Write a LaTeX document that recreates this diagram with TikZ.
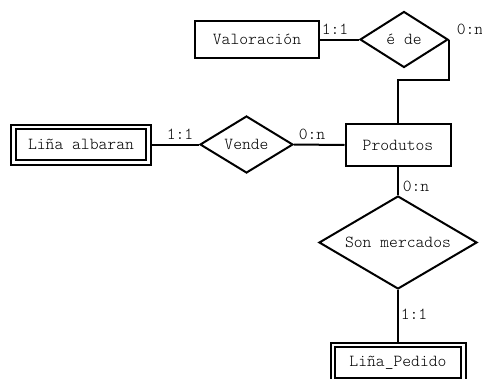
\documentclass[tikz,border=0pt]{standalone}
\usepackage{fontspec}
\setmonofont{Latin Modern Mono Light}
\usetikzlibrary{shapes.geometric}
\tikzset{
  txt/.style={font=\ttfamily\fontsize{16.8}{18}\selectfont},
  ent/.style={txt, draw, rectangle, line width=2pt, inner sep=0pt},
  weakent/.style={txt, draw, rectangle, line width=2pt, double, double distance=2.6pt, inner sep=0pt, outer sep=3.3pt},
  rel/.style={txt, draw, shape=diamond, line width=2pt, inner sep=0pt, aspect=1.6},
  lbl/.style={txt, inner sep=0pt},
  conn/.style={line width=2pt}
}
\begin{document}
\begin{tikzpicture}[x=1pt,y=-1pt]
\clip (0,0) rectangle (482,378);
\fill[white] (0,0) rectangle (482,378);
\node[ent, minimum width=124pt, minimum height=37pt] (val) at (257,39.5) {Valoración};
\node[rel, minimum width=88pt, minimum height=56pt] (ede) at (404,39.5) {é de};
\node[weakent, minimum width=135.4pt, minimum height=35.4pt] (alb) at (81,144.5) {Liña albaran};
\node[rel, minimum width=93pt, minimum height=57pt] (vende) at (246.5,144.5) {Vende};
\node[ent, minimum width=105pt, minimum height=42pt] (prod) at (398,145) {Produtos};
\node[rel, minimum width=158pt, minimum height=93pt] (son) at (398,242.5) {Son mercados};
\node[weakent, minimum width=130.4pt, minimum height=35.4pt] (ped) at (398,362.5) {Liña\_Pedido};
\coordinate (elbow) at (0,80);
\draw[conn] (val.east) -- (ede.west);
\draw[conn] (ede.east) -- (ede.east |- elbow) -| (prod.north);
\draw[conn] (alb.east) -- (vende.west);
\draw[conn] (vende.east) -- (prod.west);
\draw[conn] (prod.south) -- (son.north);
\draw[conn] (son.south) -- (ped.north);
\node[lbl] (l1) at (335,29) {1:1};
\node[lbl] (l2) at (470,29) {0:n};
\node[lbl] (l3) at (180,134) {1:1};
\node[lbl] (l4) at (312,134) {0:n};
\node[lbl] (l5) at (416,186) {0:n};
\node[lbl] (l6) at (414,314) {1:1};
\end{tikzpicture}
\end{document}
